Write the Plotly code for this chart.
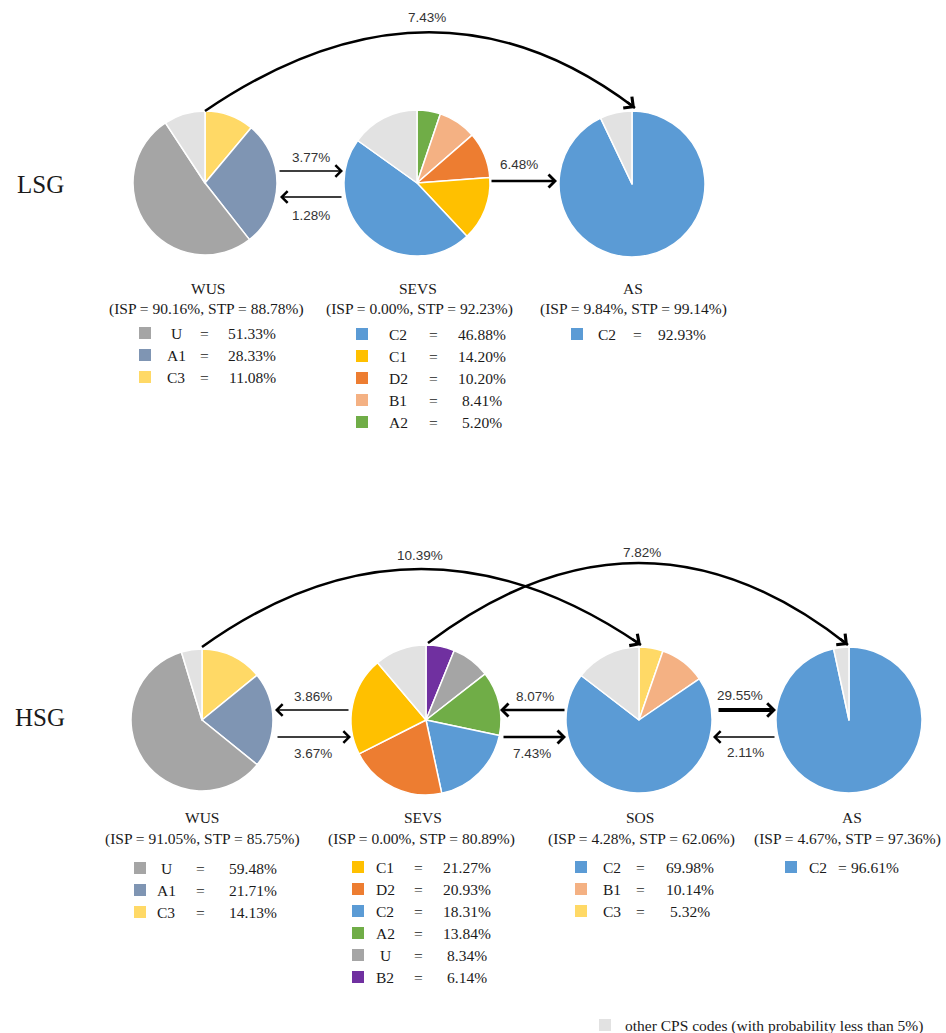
import plotly.graph_objects as go

W, H = 946, 1033

COLORS = {"U": "#A5A5A5", "A1": "#7F95B3", "C3": "#FFD966", "C2": "#5B9BD5",
          "C1": "#FFC000", "D2": "#ED7D31", "B1": "#F4B183", "A2": "#70AD47",
          "B2": "#7030A0", "other": "#E2E2E2"}

# LSG panel
lsg_states = ["WUS", "SEVS", "AS"]
lsg_isp = ["90.16%", "0.00%", "9.84%"]
lsg_stp = ["88.78%", "92.23%", "99.14%"]
lsg_wus_codes = ["C3", "A1", "U", "other"]
lsg_wus_values = [11.08, 28.33, 51.33, 9.26]
lsg_sevs_codes = ["A2", "B1", "D2", "C1", "C2", "other"]
lsg_sevs_values = [5.20, 8.41, 10.20, 14.20, 46.88, 15.11]
lsg_as_codes = ["C2", "other"]
lsg_as_values = [92.93, 7.07]
lsg_flows = ["7.43%", "3.77%", "1.28%", "6.48%"]

# HSG panel
hsg_states = ["WUS", "SEVS", "SOS", "AS"]
hsg_isp = ["91.05%", "0.00%", "4.28%", "4.67%"]
hsg_stp = ["85.75%", "80.89%", "62.06%", "97.36%"]
hsg_wus_codes = ["C3", "A1", "U", "other"]
hsg_wus_values = [14.13, 21.71, 59.48, 4.68]
hsg_sevs_codes = ["B2", "U", "A2", "C2", "D2", "C1", "other"]
hsg_sevs_values = [6.14, 8.34, 13.84, 18.31, 20.93, 21.27, 11.17]
hsg_sos_codes = ["C3", "B1", "C2", "other"]
hsg_sos_values = [5.32, 10.14, 69.98, 14.56]
hsg_as_codes = ["C2", "other"]
hsg_as_values = [96.61, 3.39]
hsg_flows = ["10.39%", "7.82%", "3.86%", "3.67%", "8.07%", "7.43%", "29.55%", "2.11%"]

SERIF = "Liberation Serif"
SANS = "Liberation Sans"

fig = go.Figure()

# pies: (codes, values, title, isp, stp, centre x, centre y, radius, legend layout)
pies = [
    (lsg_wus_codes, lsg_wus_values, lsg_states[0], lsg_isp[0], lsg_stp[0], 205, 183, 72, (145, 176, 204, 252, 333)),
    (lsg_sevs_codes, lsg_sevs_values, lsg_states[1], lsg_isp[1], lsg_stp[1], 417, 183, 73, (362, 398, 433, 482, 334)),
    (lsg_as_codes, lsg_as_values, lsg_states[2], lsg_isp[2], lsg_stp[2], 632, 184, 73, (577, 607, 637, 682, 334)),
    (hsg_wus_codes, hsg_wus_values, hsg_states[0], hsg_isp[0], hsg_stp[0], 202, 720, 71, (140, 166, 200, 253, 868)),
    (hsg_sevs_codes, hsg_sevs_values, hsg_states[1], hsg_isp[1], hsg_stp[1], 426, 720, 75, (358, 385, 418, 467, 867)),
    (hsg_sos_codes, hsg_sos_values, hsg_states[2], hsg_isp[2], hsg_stp[2], 639, 720, 73, (581, 612, 640, 690, 867)),
    (hsg_as_codes, hsg_as_values, hsg_states[3], hsg_isp[3], hsg_stp[3], 849, 720, 73, (791, 818, 842, 875, 867)),
]
title_pos = [(208, 288, 206, 309), (418, 288, 419, 309), (633, 288, 633, 309),
             (202, 817, 202, 839), (423, 817, 421, 839), (640, 817, 641, 839), (852, 817, 847, 839)]

annotations = []
sq_x, sq_y, sq_c = [], [], []
for (codes, values, name, isp, stp, cx, cy, r, leg), tp in zip(pies, title_pos):
    fig.add_trace(go.Pie(
        labels=codes, values=values, sort=False, direction="clockwise",
        marker=dict(colors=[COLORS[c] for c in codes], line=dict(color="white", width=1.5)),
        textinfo="none", hoverinfo="skip", showlegend=False,
        domain=dict(x=[(cx - r) / W, (cx + r) / W], y=[1 - (cy + r) / H, 1 - (cy - r) / H]),
    ))
    annotations.append(dict(x=tp[0], y=tp[1], text=name))
    annotations.append(dict(x=tp[2], y=tp[3], text=f"(ISP = {isp}, STP = {stp})"))
    # legend rows, largest first, without the "other" slice
    rows = sorted([(v, c) for c, v in zip(codes, values) if c != "other"], reverse=True)
    for i, (v, c) in enumerate(rows):
        y = leg[4] + i * 22
        sq_x.append(leg[0]); sq_y.append(y); sq_c.append(COLORS[c])
        annotations.append(dict(x=leg[1], y=y, text=c))
        annotations.append(dict(x=leg[2], y=y, text="="))
        annotations.append(dict(x=leg[3], y=y, text=f"{v:.2f}%"))

for a in annotations:
    a.update(xref="x", yref="y", showarrow=False, font=dict(family=SERIF, size=15.5, color="#1a1a1a"))

# group labels
annotations.append(dict(x=40, y=184, xref="x", yref="y", text="LSG", showarrow=False,
                        font=dict(family=SERIF, size=25, color="#1a1a1a")))
annotations.append(dict(x=40, y=717, xref="x", yref="y", text="HSG", showarrow=False,
                        font=dict(family=SERIF, size=25, color="#1a1a1a")))

# bottom key
sq_x.append(605); sq_y.append(1025); sq_c.append(COLORS["other"])
annotations.append(dict(x=623, y=1026, xref="x", yref="y", xanchor="left", showarrow=False,
                        text="other CPS codes (with probability less than 5%)",
                        font=dict(family=SERIF, size=15.5, color="#1a1a1a")))

fig.add_trace(go.Scatter(x=sq_x, y=sq_y, mode="markers", hoverinfo="skip", showlegend=False,
                         marker=dict(symbol="square", size=12, color=sq_c)))

# straight arrows: tail x, tail y, tip x, tip y, width, head size, label, label x, label y
straight = [
    (278, 171, 343, 171, 1.5, 1.5, lsg_flows[1], 311, 157),
    (343, 197, 280, 197, 1.5, 1.5, lsg_flows[2], 311, 215),
    (490, 181, 557, 181, 2.5, 1.0, lsg_flows[3], 519, 164),
    (350, 710, 275, 710, 1.5, 1.5, hsg_flows[2], 313, 696),
    (276, 737, 351, 737, 1.5, 1.5, hsg_flows[3], 313, 753),
    (566, 710, 500, 710, 2.5, 1.0, hsg_flows[4], 535, 696),
    (502, 737, 566, 737, 2.5, 1.0, hsg_flows[5], 532, 753),
    (717, 710, 776, 710, 4.0, 0.65, hsg_flows[6], 740, 695),
    (776, 737, 713, 737, 1.5, 1.5, hsg_flows[7], 745, 752),
]
for tx, ty, hx, hy, w, s, lab, lx, ly in straight:
    annotations.append(dict(x=hx, y=hy, ax=tx, ay=ty, xref="x", yref="y", axref="x", ayref="y",
                            text="", showarrow=True, arrowhead=4, arrowwidth=w, arrowsize=s,
                            arrowcolor="black", standoff=0))
    annotations.append(dict(x=lx, y=ly, xref="x", yref="y", text=lab, showarrow=False,
                            font=dict(family=SANS, size=13.5, color="#333333")))

# curved arrows: start, control, end, label, label position
curves = [
    ((205, 111), (434, -45), (635, 108), lsg_flows[0], (427, 17)),
    ((202, 647), (418, 492), (641, 645), hsg_flows[0], (420, 555)),
    ((428, 643), (642, 482), (848, 645), hsg_flows[1], (642, 552)),
]
shapes = []
for p0, c, p1, lab, lp in curves:
    shapes.append(dict(type="path", xref="x", yref="y",
                       path=f"M{p0[0]},{p0[1]} Q{c[0]},{c[1]} {p1[0]},{p1[1]}",
                       line=dict(color="black", width=2.5)))
    dx, dy = p1[0] - c[0], p1[1] - c[1]
    n = (dx * dx + dy * dy) ** 0.5
    annotations.append(dict(x=p1[0], y=p1[1], ax=p1[0] - 12 * dx / n, ay=p1[1] - 12 * dy / n,
                            xref="x", yref="y", axref="x", ayref="y", text="", showarrow=True,
                            arrowhead=4, arrowwidth=2.5, arrowsize=1.1, arrowcolor="black", standoff=0))
    annotations.append(dict(x=lp[0], y=lp[1], xref="x", yref="y", text=lab, showarrow=False,
                            font=dict(family=SANS, size=13.5, color="#333333")))

fig.update_layout(
    width=W, height=H, margin=dict(l=0, r=0, t=0, b=0),
    paper_bgcolor="white", plot_bgcolor="white",
    xaxis=dict(range=[0, W], visible=False, fixedrange=True),
    yaxis=dict(range=[H, 0], visible=False, fixedrange=True),
    annotations=annotations, shapes=shapes, showlegend=False,
)

fig.write_html("out.html", config={"displayModeBar": False},
               post_script="document.body.style.margin='0';")
